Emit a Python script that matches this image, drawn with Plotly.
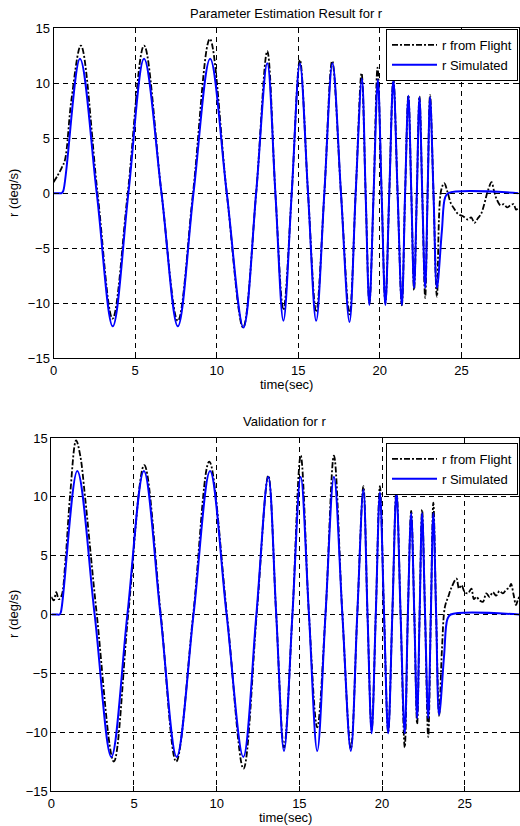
import plotly.graph_objects as go

# ---------------- data ----------------
# Top: Parameter Estimation Result for r
est_sim_t = [0, 0.3, 0.5, 0.6, 1.62, 2.65, 3.63, 4.59, 5.55, 6.62, 7.62, 8.58, 9.6, 10.62, 11.64,
             12.42, 13.1, 13.6, 14.09, 14.6, 15.1, 15.6, 16.1, 16.6, 17.1, 17.62, 18.14, 18.52, 18.9,
             19.13, 19.36, 19.62, 19.88, 20.11, 20.34, 20.58, 20.83, 21.09, 21.35, 21.55, 21.75, 21.93,
             22.1, 22.27, 22.43, 22.6, 22.78, 22.93, 23.08, 23.29, 23.5, 23.8, 24.0, 24.2, 28.5]
est_sim_r = [0, 0, 0, 0.2, 12.2, 0, -12.1, 0, 12.2, 0, -12.1, 0, 12.2, 0, -12.2,
             0, 11.8, 0, -11.6, 0, 11.8, 0, -11.6, 0, 11.8, 0, -11.7, 0, 10.4,
             0, -10.15, 0, 10.3, 0, -10.15, 0, 10.3, 0, -10.15, 0, 8.85, 0,
             -8.6, 0, 8.7, 0, -8.6, 0, 8.7, 0, -8.6, -3.5, -0.4, 0, 0]

est_flt_t = [0, 0.25, 0.5, 0.7, 1.1, 1.68, 2.7, 3.62, 4.55, 5.55, 6.62, 7.62, 8.55, 9.58, 10.62, 11.62,
             12.42, 13.1, 13.6, 14.09, 14.6, 15.1, 15.6, 16.1, 16.6, 17.08, 17.62, 18.14, 18.52, 18.88,
             19.13, 19.36, 19.62, 19.86, 20.11, 20.34, 20.58, 20.83, 21.09, 21.35, 21.55, 21.75, 21.93,
             22.1, 22.27, 22.43, 22.6, 22.78, 22.93, 23.08, 23.29, 23.5, 23.75, 23.95, 24.15, 24.35,
             24.6, 24.8, 25.1, 25.4, 25.6, 25.8, 26.0, 26.2, 26.4, 26.6, 26.85, 27.0, 27.15, 27.4,
             27.6, 27.8, 28.0, 28.2, 28.35, 28.5]
est_flt_r = [1.0, 1.6, 2.3, 3.0, 8.5, 13.4, 0, -11.4, 0, 13.4, 0, -11.6, 0, 14.0, 0, -12.2,
             0, 12.9, 0, -10.6, 0, 12.1, 0, -10.8, 0, 12.0, 0, -11.0, 0, 10.9,
             0, -10.0, 0, 11.4, 0, -10.0, 0, 10.4, 0, -10.2, 0, 8.9, 0,
             -8.8, 0, 8.8, 0, -9.5, 0, 8.9, 0, -9.4, 0.2, 0.9, 0.1, -0.9,
             -1.5, -1.9, -2.1, -2.4, -2.2, -2.7, -2.3, -1.9, -1.0, 0.1, 1.0, 0.2, -0.5, -1.1,
             -1.0, -1.3, -1.1, -1.0, -1.5, -1.3]

# Bottom: Validation for r
val_sim_t = [0, 0.3, 0.5, 0.58, 1.57, 2.62, 3.63, 4.6, 5.6, 6.6, 7.58, 8.6, 9.6, 10.6, 11.61,
             12.4, 13.12, 13.6, 14.07, 14.58, 15.08, 15.58, 16.08, 16.58, 17.09, 17.6, 18.11, 18.5,
             18.87, 19.12, 19.37, 19.62, 19.87, 20.12, 20.37, 20.62, 20.87, 21.12, 21.37, 21.56,
             21.76, 21.95, 22.12, 22.27, 22.42, 22.6, 22.79, 22.95, 23.1, 23.27, 23.45, 23.75,
             23.95, 24.15, 28.3]
val_sim_r = [0, 0, 0, 0.2, 12.2, 0, -12.1, 0, 12.2, 0, -12.1, 0, 12.2, 0, -12.1,
             0, 11.7, 0, -11.6, 0, 11.7, 0, -11.6, 0, 11.7, 0, -11.6, 0,
             10.6, 0, -10.1, 0, 10.4, 0, -10.1, 0, 10.4, 0, -10.1, 0,
             8.6, 0, -8.8, 0, 8.6, 0, -8.8, 0, 8.6, 0, -8.5, -3.5,
             -0.4, 0, 0]

val_flt_t = [0, 0.15, 0.3, 0.45, 0.62, 0.85, 1.13, 1.5, 1.75, 2.04, 2.75, 3.78, 4.65, 5.62, 6.62,
             7.55, 8.58, 9.55, 10.62, 11.62, 12.42, 13.12, 13.6, 14.07, 14.58, 15.08, 15.58, 16.08,
             16.58, 17.09, 17.6, 18.11, 18.5, 18.87, 19.12, 19.37, 19.62, 19.87, 20.12, 20.37, 20.62,
             20.87, 21.12, 21.37, 21.56, 21.76, 21.95, 22.12, 22.27, 22.42, 22.6, 22.79, 22.95, 23.1,
             23.27, 23.45, 23.62, 23.8, 24.0, 24.2, 24.5, 24.65, 24.8, 25.0, 25.2, 25.4, 25.55, 25.7,
             25.9, 26.1, 26.3, 26.5, 26.7, 26.9, 27.1, 27.3, 27.5, 27.7, 27.8, 27.95, 28.1, 28.2, 28.3]
val_flt_r = [1.5, 1.2, 1.9, 1.3, 1.6, 4.5, 10.0, 14.8, 13.5, 10.0, 0, -12.5, 0, 12.7, 0,
             -12.5, 0, 13.0, 0, -13.1, 0, 11.8, 0, -11.3, 0, 13.5, 0, -9.6,
             0, 13.5, 0, -11.4, 0, 10.9, 0, -9.8, 0, 10.9, 0, -10.0, 0,
             10.7, 0, -11.3, 0, 8.8, 0, -9.3, 0, 8.9, 0, -10.4, 0, 9.5,
             0, -8.6, -3.0, 0.65, 1.5, 2.3, 3.05, 2.2, 2.5, 1.9, 1.8, 2.2, 1.3, 1.5,
             1.2, 1.07, 1.8, 1.5, 1.9, 1.6, 2.0, 1.8, 2.1, 2.3, 2.6, 1.7, 0.8, 1.2, 1.5]

x_ticks = [0, 5, 10, 15, 20, 25]
y_ticks = [-15, -10, -5, 0, 5, 10, 15]

# ---------------- figure ----------------
W, H = 520, 826
FONT = "Liberation Sans, Arial, sans-serif"
BLUE = "rgb(0,0,255)"

fig = go.Figure()

def add_pair(t_f, r_f, t_s, r_s, xa, ya, leg):
    fig.add_trace(go.Scatter(x=t_f, y=r_f, mode="lines", name="r from Flight",
                             line=dict(color="black", width=1.8, dash="6px,2px,2px,2px",
                                       shape="spline", smoothing=1.0),
                             xaxis=xa, yaxis=ya, legend=leg))
    fig.add_trace(go.Scatter(x=t_s, y=r_s, mode="lines", name="r Simulated",
                             line=dict(color=BLUE, width=2, shape="spline", smoothing=1.0),
                             xaxis=xa, yaxis=ya, legend=leg))

add_pair(est_flt_t, est_flt_r, est_sim_t, est_sim_r, "x", "y", "legend")
add_pair(val_flt_t, val_flt_r, val_sim_t, val_sim_r, "x2", "y2", "legend2")

def px_x(p):
    return p / W

def px_y(p):
    return 1 - p / H

axis_common = dict(showline=True, linecolor="black", linewidth=1, mirror="ticks",
                   ticks="inside", ticklen=5, tickcolor="black", tickwidth=1,
                   showgrid=True, gridcolor="black", gridwidth=1, griddash="5px,4px",
                   zeroline=False, automargin=False,
                   tickfont=dict(family=FONT, size=13, color="black"))

fig.update_layout(
    width=W, height=H,
    margin=dict(l=0, r=0, t=0, b=0, autoexpand=False),
    paper_bgcolor="white", plot_bgcolor="white",
    font=dict(family=FONT, size=13, color="black"),
    xaxis=dict(domain=[px_x(53.5), px_x(518.5)], range=[0, 28.5], tickvals=x_ticks,
               anchor="y", **axis_common),
    yaxis=dict(domain=[px_y(358.3), px_y(28)], range=[-15, 15], tickvals=y_ticks,
               anchor="x", **axis_common),
    xaxis2=dict(domain=[px_x(51.3), px_x(519)], range=[0, 28.28], tickvals=x_ticks,
                anchor="y2", **axis_common),
    yaxis2=dict(domain=[px_y(791), px_y(438)], range=[-15, 15], tickvals=y_ticks,
                anchor="x2", **axis_common),
    legend=dict(x=px_x(518), xanchor="right", y=px_y(29), yanchor="top",
                bgcolor="white", bordercolor="black", borderwidth=1,
                font=dict(family=FONT, size=13, color="black"), itemwidth=45,
                tracegroupgap=0),
    legend2=dict(x=px_x(518), xanchor="right", y=px_y(443), yanchor="top",
                 bgcolor="white", bordercolor="black", borderwidth=1,
                 font=dict(family=FONT, size=13, color="black"), itemwidth=45,
                 tracegroupgap=0),
    showlegend=True,
)

ann = [
    dict(text="Parameter Estimation Result for r", x=px_x(286), y=px_y(14)),
    dict(text="time(sec)", x=px_x(286), y=px_y(384)),
    dict(text="Validation for r", x=px_x(285), y=px_y(421)),
    dict(text="time(sec)", x=px_x(285), y=px_y(817)),
]
for a in ann:
    fig.add_annotation(xref="paper", yref="paper", showarrow=False,
                       xanchor="center", yanchor="middle",
                       font=dict(family=FONT, size=13, color="black"), **a)
for yc in (193, 614):
    fig.add_annotation(text="r (deg/s)", xref="paper", yref="paper", showarrow=False,
                       x=px_x(13), y=px_y(yc), xanchor="center", yanchor="middle",
                       textangle=-90, font=dict(family=FONT, size=13, color="black"))

fig.write_html("out.html",
               config={"displayModeBar": False},
               post_script="document.body.style.margin='0px';"
                           "document.body.style.overflow='hidden';")
